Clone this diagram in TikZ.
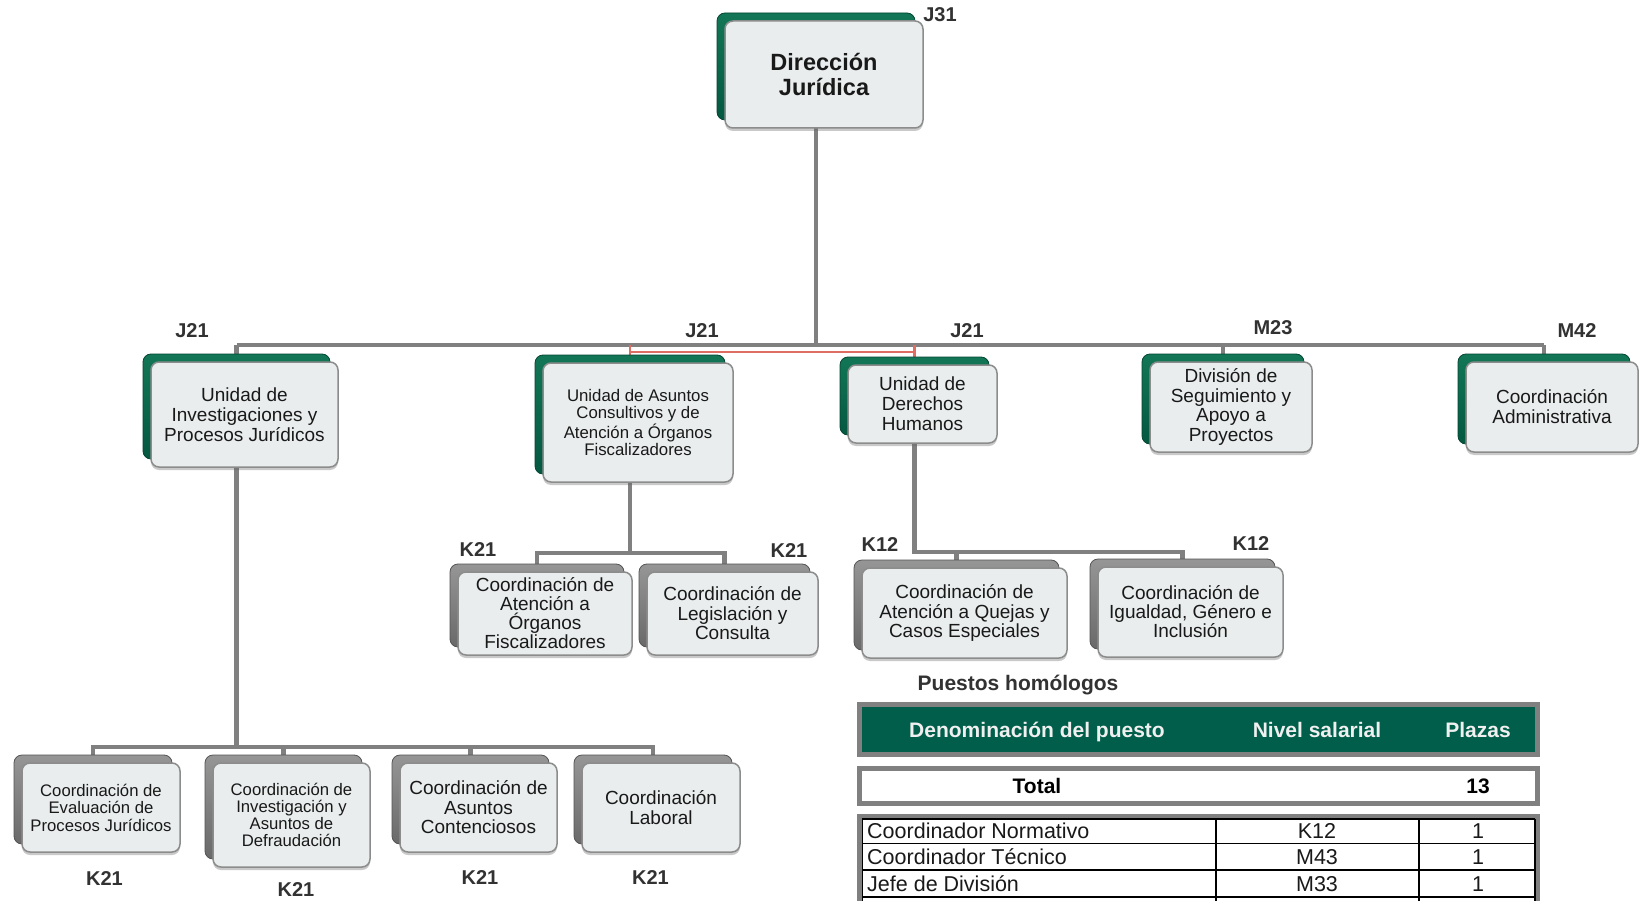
\documentclass[tikz,border=0pt]{standalone}
\usepackage{fontspec}
\setmainfont{Liberation Sans}
\usetikzlibrary{shadows}
\definecolor{dgreen}{RGB}{4,88,64}
\definecolor{dgreenl}{RGB}{18,118,86}
\definecolor{hgreen}{RGB}{0,94,74}
\definecolor{cgray}{RGB}{128,128,128}
\definecolor{bgray}{RGB}{105,105,105}
\definecolor{bgrayl}{RGB}{150,150,150}
\definecolor{fboxc}{RGB}{233,237,237}
\definecolor{edgec}{RGB}{140,140,140}
\definecolor{lblc}{RGB}{50,50,50}
\definecolor{txtc}{RGB}{25,25,25}
\definecolor{redc}{RGB}{222,110,100}
\definecolor{hdrtxt}{RGB}{240,240,240}
\pgfdeclarelayer{bg}
\pgfsetlayers{bg,main}
\newcommand{\myfs}[2]{\fontsize{#1}{#2}\selectfont}
\tikzset{
  front/.style={draw=edgec, line width=1.5pt, rounded corners=8pt, fill=fboxc, text=txtc,
    align=center, inner sep=2pt,
    drop shadow={shadow xshift=0pt, shadow yshift=-3pt, opacity=0.35, fill=black!60}},
  greenback/.style={rounded corners=8pt, top color=dgreenl, bottom color=dgreen, draw=dgreen!80!black, line width=0.8pt},
  grayback/.style={rounded corners=8pt, top color=bgrayl, bottom color=bgray, draw=bgray!80!black, line width=0.8pt},
  conn/.style={draw=cgray, line width=4.5pt},
  redconn/.style={draw=redc, line width=2.5pt},
  lab/.style={font=\bfseries\myfs{20}{22}, text=lblc, inner sep=0pt},
  hdr/.style={font=\bfseries\myfs{21}{24}, text=hdrtxt, inner sep=0pt, text height=15pt, text depth=4.5pt},
  tbold/.style={font=\bfseries\myfs{21}{24}, text=black, inner sep=0pt, text height=15pt, text depth=4.5pt},
  cell/.style={font=\myfs{21.5}{24}, text=txtc, inner sep=0pt, text height=15.5pt, text depth=4.5pt},
  tline/.style={draw=black, line width=1.2pt},
  tframe/.style={draw=cgray, line width=5pt},
}
% #1 name, #2 x, #3 y, #4 w, #5 h, #6 back style, #7 font, #8 text
\newcommand{\obox}[8]{%
  \node[#6, minimum width=#4, minimum height=#5] (#1b) at ({#2-8},{#3-8}) {};
  \node[front, minimum width=#4, minimum height=#5, font=#7] (#1) at (#2,#3) {#8};}

\begin{document}
\begin{tikzpicture}[x=1pt,y=-1pt]
\useasboundingbox (0,0) rectangle (1640,901);
\begin{pgfonlayer}{bg}
\fill[white] (0,0) rectangle (1640,901);
\end{pgfonlayer}

% ---------- boxes ----------
\obox{dir}{824}{74.5}{198}{107}{greenback}{\bfseries\myfs{23.5}{25}}{Dirección\\Jurídica}

\obox{u1}{244.5}{414.5}{187}{105}{greenback}{\myfs{19}{20}}{Unidad de\\Investigaciones y\\Procesos Jurídicos}
\obox{u2}{638}{422.5}{190}{119}{greenback}{\myfs{16.8}{17}}{Unidad de Asuntos\\Consultivos y de\\Atención a Órganos\\Fiscalizadores}
\obox{u3}{922.5}{404}{149}{78}{greenback}{\myfs{19}{20}}{Unidad de\\Derechos\\Humanos}
\obox{u4}{1231}{407}{162}{90}{greenback}{\myfs{19}{19.7}}{División de\\Seguimiento y\\Apoyo a\\Proyectos}
\obox{u5}{1552}{407}{172}{90}{greenback}{\myfs{19}{20}}{Coordinación\\Administrativa}

\obox{c1}{545}{613.5}{174}{83}{grayback}{\myfs{19}{19}}{Coordinación de\\Atención a\\Órganos\\Fiscalizadores}
\obox{c2}{732.5}{613.5}{171}{83}{grayback}{\myfs{19}{19.5}}{Coordinación de\\Legislación y\\Consulta}
\obox{c3}{964.5}{613}{205}{90}{grayback}{\myfs{19}{19.5}}{Coordinación de\\Atención a Quejas y\\Casos Especiales}
\obox{c4}{1190.5}{612}{185}{90}{grayback}{\myfs{19}{19}}{Coordinación de\\Igualdad, Género e\\Inclusión}

\obox{b1}{101}{807.5}{158}{89}{grayback}{\myfs{16.7}{17.5}}{Coordinación de\\Evaluación de\\Procesos Jurídicos}
\obox{b2}{291.5}{815}{157}{104}{grayback}{\myfs{16.7}{17}}{Coordinación de\\Investigación y\\Asuntos de\\Defraudación}
\obox{b3}{478.5}{807.5}{157}{89}{grayback}{\myfs{19}{19.5}}{Coordinación de\\Asuntos\\Contenciosos}
\obox{b4}{661}{807.5}{158}{89}{grayback}{\myfs{19}{20}}{Coordinación\\Laboral}

% ---------- level labels ----------
\node[lab] (ldir) at (940,15) {J31};
\node[lab] (lu1) at (192,331) {J21};
\node[lab] (lu2) at (702,331) {J21};
\node[lab] (lu3) at (967,331) {J21};
\node[lab] (lu4) at (1273,328) {M23};
\node[lab] (lu5) at (1577,331) {M42};
\node[lab] (lc1) at (478,550) {K21};
\node[lab] (lc2) at (789,551) {K21};
\node[lab] (lc3) at (880,545) {K12};
\node[lab] (lc4) at (1251,544) {K12};
\node[lab] (lb1) at (104.5,878.5) {K21};
\node[lab] (lb2) at (296,890) {K21};
\node[lab] (lb3) at (480,877.5) {K21};
\node[lab] (lb4) at (650.5,877.5) {K21};

% ---------- connectors ----------
\coordinate (bus0) at (0,345);
\coordinate (busr) at (0,352);
\coordinate (bus2) at (0,553);
\coordinate (bus3) at (0,552);
\coordinate (bus4) at (0,747);
\begin{pgfonlayer}{bg}
  \draw[conn] (dirb.center) -- (dirb.center |- bus0);
  \draw[conn] (u1b.center |- bus0) -- (u5b.center |- bus0);
  \draw[conn] (u1b.center |- bus0) -- (u1b.center |- bus4);
  \draw[conn] (u4b.center |- bus0) -- (u4b.center);
  \draw[conn] (u5b.center |- bus0) -- (u5b.center);
  \draw[redconn] (u2b.center |- bus0) -- (u2b.center);
  \draw[redconn] (u3b.center |- bus0) -- (u3b.center);
  \draw[redconn] (u2b.center |- busr) -- (u3b.center |- busr);
  \draw[conn] (u2b.center) -- (u2b.center |- bus2);
  \draw[conn] (c1b.center) -- (c1b.center |- bus2) -- (c2b.center |- bus2) -- (c2b.center);
  \draw[conn] (u3b.center) -- (u3b.center |- bus3) -- (c4b.center |- bus3) -- (c4b.center);
  \draw[conn] (c3b.center |- bus3) -- (c3b.center);
  \draw[conn] (b1b.center) -- (b1b.center |- bus4) -- (b4b.center |- bus4) -- (b4b.center);
  \draw[conn] (b2b.center |- bus4) -- (b2b.center);
  \draw[conn] (b3b.center |- bus4) -- (b3b.center);
\end{pgfonlayer}

% ---------- table ----------
\node[font=\bfseries\myfs{21}{24}, text=lblc, inner sep=0pt] (ph) at (1018,685) {Puestos homólogos};
\node[tframe, fill=hgreen, minimum width=678, minimum height=50, inner sep=0pt] (thead) at (1198.5,729.5) {};
\node[hdr] (h1) at (1037,732.5) {Denominación del puesto};
\node[hdr] (h2) at (1317,732.5) {Nivel salarial};
\node[hdr] (h3) at (1478,732.5) {Plazas};

\node[tframe, fill=white, minimum width=678, minimum height=35, inner sep=0pt] (ttot) at (1198.5,786) {};
\node[tbold] (tt1) at (1037,788) {Total};
\node[tbold] (tt2) at (1478,788) {13};

\draw[tframe] (859.5,930) -- (859.5,816.5) -- (1537.5,816.5) -- (1537.5,930);
\draw[tline] (862,819) -- (1535,819);
\draw[tline] (862,843.5) -- (1535,843.5);
\draw[tline] (862,870) -- (1535,870);
\draw[tline] (862,897) -- (1535,897);
\draw[tline] (862.5,819) -- (862.5,930);
\draw[tline] (1216,819) -- (1216,930);
\draw[tline] (1419,819) -- (1419,930);
\draw[tline] (1535,819) -- (1535,930);

\node[cell, anchor=west] (r1a) at (867,833) {Coordinador Normativo};
\node[cell] (r1b) at (1317,833) {K12};
\node[cell] (r1c) at (1478,833) {1};
\node[cell, anchor=west] (r2a) at (867,859) {Coordinador Técnico};
\node[cell] (r2b) at (1317,859) {M43};
\node[cell] (r2c) at (1478,859) {1};
\node[cell, anchor=west] (r3a) at (867,885.5) {Jefe de División};
\node[cell] (r3b) at (1317,885.5) {M33};
\node[cell] (r3c) at (1478,885.5) {1};
\end{tikzpicture}
\end{document}
